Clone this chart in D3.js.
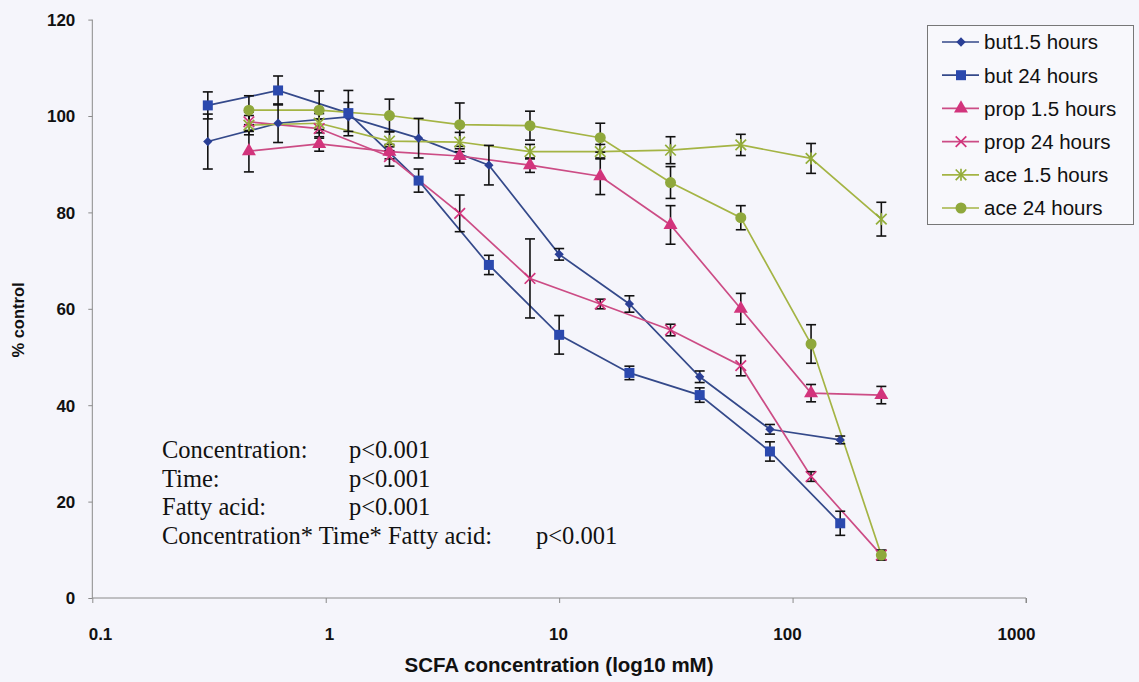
<!DOCTYPE html>
<html><head><meta charset="utf-8">
<script src="https://cdn.jsdelivr.net/npm/d3@7"></script>
<style>html,body{margin:0;padding:0;background:#f5f5fb;}svg{display:block;}</style>
</head><body>
<svg id="chart" width="1139" height="682"></svg>
<script>
// ---- data ----
const butConc = [0.3125, 0.625, 1.25, 2.5, 5, 10, 20, 40, 80, 160];
const propConc = [0.46875, 0.9375, 1.875, 3.75, 7.5, 15, 30, 60, 120, 240];
const aceConc = [0.46875, 0.9375, 1.875, 3.75, 7.5, 15, 30, 60, 120, 240];

const but15 = [94.7, 98.5, 99.8, 95.4, 89.8, 71.3, 61.0, 45.9, 35.0, 32.8];
const but15Err = [5.7, 4.0, 3.0, 4.1, 4.1, 1.2, 1.7, 1.2, 1.0, 0.8];
const but24 = [102.2, 105.3, 100.6, 86.6, 69.1, 54.6, 46.7, 42.1, 30.4, 15.5];
const but24Err = [2.8, 3.0, 4.7, 2.4, 2.0, 4.0, 1.4, 1.5, 2.0, 2.5];
const prop15 = [92.7, 94.2, 92.6, 91.7, 89.8, 87.5, 77.4, 60.0, 42.5, 42.1];
const prop15Err = [4.3, 1.5, 1.5, 1.5, 1.5, 3.8, 4.0, 3.2, 1.8, 1.8];
const prop24 = [98.8, 97.4, 91.6, 79.8, 66.3, 61.0, 55.6, 48.2, 25.2, 8.9];
const prop24Err = [2.0, 2.0, 2.0, 3.8, 8.2, 1.0, 1.2, 2.1, 1.0, 1.0];
const ace15 = [98.1, 98.5, 94.8, 94.6, 92.6, 92.6, 92.9, 94.0, 91.2, 78.6];
const ace15Err = [2.0, 2.0, 2.0, 2.0, 1.5, 1.5, 2.8, 2.2, 3.1, 3.5];
const ace24 = [101.2, 101.2, 100.1, 98.2, 98.0, 95.5, 86.2, 78.9, 52.7, 8.9];
const ace24Err = [3.0, 4.0, 3.4, 4.5, 3.0, 3.0, 3.3, 2.5, 4.0, 1.0];

const seriesNames = ["but1.5 hours", "but 24 hours", "prop 1.5 hours", "prop 24 hours", "ace 1.5 hours", "ace 24 hours"];
const xTicks = [0.1, 1, 10, 100, 1000];
const yTicks = [0, 20, 40, 60, 80, 100, 120];
const statsLabels = ["Concentration:", "Time:", "Fatty acid:"];
const statsValues = ["p<0.001", "p<0.001", "p<0.001"];
const statsLast = "Concentration* Time* Fatty acid:";
const statsLastValue = "p<0.001";

// ---- build ----
const series = [
  {name: seriesNames[0], conc: butConc, val: but15, err: but15Err, line: "#34498a", fill: "#2a3f96", shape: "diamond"},
  {name: seriesNames[1], conc: butConc, val: but24, err: but24Err, line: "#34498a", fill: "#2b49ae", shape: "square"},
  {name: seriesNames[2], conc: propConc, val: prop15, err: prop15Err, line: "#cc4c85", fill: "#d2347c", shape: "triangle"},
  {name: seriesNames[3], conc: propConc, val: prop24, err: prop24Err, line: "#cc4c85", fill: "#d2347c", shape: "cross"},
  {name: seriesNames[4], conc: aceConc, val: ace15, err: ace15Err, line: "#a4b444", fill: "#93ad3a", shape: "asterisk"},
  {name: seriesNames[5], conc: aceConc, val: ace24, err: ace24Err, line: "#a4b444", fill: "#8fa83c", shape: "circle"}
];

const svg = d3.select("#chart");
const x = d3.scaleLog().domain([0.1, 1000]).range([92.3, 1026]);
const xLabel = d3.scaleLog().domain([0.1, 1000]).range([100, 1016]);
const y = d3.scaleLinear().domain([0, 120]).range([598, 19.6]);
const sans = "Liberation Sans, Arial, sans-serif";

// axes
const axisColor = "#8a8a8a";
const gx = svg.append("g").attr("transform", "translate(0,598)")
  .call(d3.axisBottom(x).tickValues(xTicks).tickSize(5).tickFormat(d => String(d)));
gx.select(".domain").attr("stroke", axisColor).attr("d", `M${x(0.1)},0H${x(1000)}V5`);
gx.selectAll(".tick line").attr("stroke", axisColor);
gx.selectAll(".tick text").attr("dy", 0).attr("y", 42)
  .attr("x", d => xLabel(d) - x(d))
  .attr("font-family", sans).attr("font-size", 17).attr("font-weight", "bold").attr("fill", "#111");

const gy = svg.append("g").attr("transform", "translate(92.3,0)")
  .call(d3.axisLeft(y).tickValues(yTicks).tickSize(4).tickFormat(d3.format("d")));
gy.select(".domain").attr("stroke", axisColor).attr("d", `M0,${y(120)}V${y(0)}`);
gy.selectAll(".tick line").attr("stroke", axisColor);
gy.selectAll(".tick text").attr("x", -17).attr("dy", "0.35em")
  .attr("font-family", sans).attr("font-size", 17).attr("font-weight", "bold").attr("fill", "#111");

svg.append("text").attr("x", 559).attr("y", 672).attr("text-anchor", "middle")
  .attr("font-family", sans).attr("font-size", 20.5).attr("font-weight", "bold").attr("fill", "#111")
  .text("SCFA concentration (log10 mM)");
svg.append("text").attr("transform", "translate(24,320) rotate(-90)").attr("text-anchor", "middle")
  .attr("font-family", sans).attr("font-size", 16.5).attr("font-weight", "bold").attr("fill", "#111")
  .text("% control");

// marker drawing
function drawMarker(g, shape, fill, cx, cy) {
  if (shape === "diamond") {
    g.append("path").attr("d", d3.symbol(d3.symbolDiamond2, 55)()).attr("transform", `translate(${cx},${cy})`).attr("fill", fill);
  } else if (shape === "square") {
    g.append("path").attr("d", d3.symbol(d3.symbolSquare, 100)()).attr("transform", `translate(${cx},${cy})`).attr("fill", fill);
  } else if (shape === "triangle") {
    g.append("path").attr("d", d3.symbol(d3.symbolTriangle, 85)()).attr("transform", `translate(${cx},${cy})`).attr("fill", fill);
  } else if (shape === "cross") {
    g.append("path").attr("d", d3.symbol(d3.symbolX, 75)()).attr("transform", `translate(${cx},${cy})`).attr("stroke", fill).attr("stroke-width", 1.7).attr("fill", "none");
  } else if (shape === "asterisk") {
    g.append("path").attr("d", d3.symbol(d3.symbolX, 75)()).attr("transform", `translate(${cx},${cy})`).attr("stroke", fill).attr("stroke-width", 1.7).attr("fill", "none");
    g.append("path").attr("d", `M0,-6V6`).attr("transform", `translate(${cx},${cy})`).attr("stroke", fill).attr("stroke-width", 1.7);
  } else if (shape === "circle") {
    g.append("circle").attr("cx", cx).attr("cy", cy).attr("r", 5.5).attr("fill", fill);
  }
}

const plot = svg.append("g");
const lineGen = d3.line().x(d => x(d[0])).y(d => y(d[1]));
// lines
series.forEach(s => {
  const pts = s.conc.map((c, i) => [c, s.val[i]]);
  plot.append("path").attr("d", lineGen(pts)).attr("fill", "none").attr("stroke", s.line).attr("stroke-width", 1.7);
});
// error bars
series.forEach(s => {
  s.conc.forEach((c, i) => {
    const cx = x(c), y1 = y(s.val[i] + s.err[i]), y2 = y(s.val[i] - s.err[i]);
    const g = plot.append("g").attr("stroke", "#111").attr("stroke-width", 1.6);
    g.append("line").attr("x1", cx).attr("x2", cx).attr("y1", y1).attr("y2", y2);
    g.append("line").attr("x1", cx - 5).attr("x2", cx + 5).attr("y1", y1).attr("y2", y1);
    g.append("line").attr("x1", cx - 5).attr("x2", cx + 5).attr("y1", y2).attr("y2", y2);
  });
});
// markers
series.forEach(s => {
  const g = plot.append("g");
  s.conc.forEach((c, i) => drawMarker(g, s.shape, s.fill, x(c), y(s.val[i])));
});

// legend
const lg = svg.append("g");
lg.append("rect").attr("x", 927.5).attr("y", 25.5).attr("width", 206).attr("height", 199)
  .attr("fill", "#f8f8fc").attr("stroke", "#777").attr("stroke-width", 1);
series.forEach((s, i) => {
  const ly = 42 + i * 33.2;
  lg.append("line").attr("x1", 942).attr("x2", 979).attr("y1", ly).attr("y2", ly).attr("stroke", s.line).attr("stroke-width", 1.7);
  drawMarker(lg, s.shape, s.fill, 961, ly);
  lg.append("text").attr("x", 984).attr("y", ly).attr("dy", "0.36em")
    .attr("font-family", sans).attr("font-size", 20.5).attr("fill", "#111").text(s.name);
});

// stats annotation
const st = svg.append("g").attr("font-family", "Liberation Serif, Times New Roman, serif").attr("font-size", 24.5).attr("fill", "#111");
statsLabels.forEach((t, i) => {
  const ty = 458 + i * 28.7;
  st.append("text").attr("x", 162).attr("y", ty).text(t);
  st.append("text").attr("x", 349).attr("y", ty).text(statsValues[i]);
});
st.append("text").attr("x", 162).attr("y", 458 + 3 * 28.7).text(statsLast);
st.append("text").attr("x", 536).attr("y", 458 + 3 * 28.7).text(statsLastValue);
</script>
</body></html>
